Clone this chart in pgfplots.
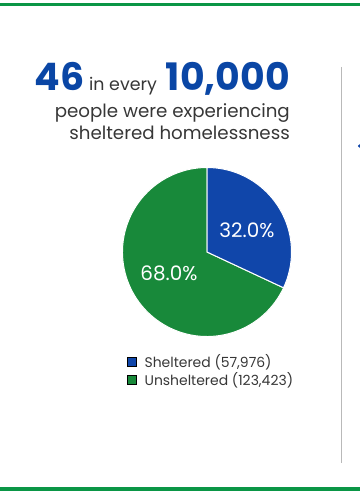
\documentclass[border=0pt]{standalone}
\usepackage{pgfplots}
\pgfplotsset{compat=1.18}
\usepackage{pgfplotstable}
\usepackage{fontspec}
\setmainfont{Poppins}
\definecolor{pieblue}{RGB}{16,70,170}
\definecolor{piegreen}{RGB}{24,137,58}
\definecolor{linegreen}{RGB}{10,150,70}
\definecolor{titleblue}{RGB}{10,70,165}
\definecolor{textgrey}{RGB}{55,55,55}
\definecolor{rulegrey}{RGB}{185,185,185}

\pgfplotstableread{
name value
Sheltered 57976
Unsheltered 123423
}\piedata
\pgfplotstablegetelem{0}{value}\of\piedata \let\vA\pgfplotsretval
\pgfplotstablegetelem{1}{value}\of\piedata \let\vB\pgfplotsretval
\edef\angA{\fpeval{round(\vA/(\vA+\vB)*360,3)}}
\edef\endA{\fpeval{90-\angA}}

\begin{document}
\begin{tikzpicture}
\path[use as bounding box] (0,0) rectangle (360bp,500bp);
\begin{axis}[
  hide axis, scale only axis,
  x=1bp, y=1bp,
  xmin=0, xmax=360, ymin=0, ymax=500,
  clip=false,
  legend style={at={(axis cs:127,147)}, anchor=north west, draw=none, fill=none,
    font=\fontsize{14}{16}\selectfont\color{textgrey}, row sep=0.5bp, inner sep=0pt,
    nodes={inner sep=1.5bp}},
  legend cell align=left,
  legend image code/.code={\fill[#1] (0bp,-4.5bp) rectangle (9bp,4.5bp); \path (15.5bp,0bp);},
]
\addlegendimage{fill=pieblue}
\addlegendentry{Sheltered (57,976)}
\addlegendimage{fill=piegreen}
\addlegendentry{Unsheltered (123,423)}

% frame lines
\addplot[forget plot, linegreen, line width=3bp] coordinates {(0,495.5) (360,495.5)};
\addplot[forget plot, linegreen, line width=3bp] coordinates {(0,11) (360,11)};
\addplot[forget plot, rulegrey, line width=1.5bp] coordinates {(341.5,433) (341.5,37)};
\addplot[forget plot, only marks, mark=*, mark size=1.3bp, color=pieblue] coordinates {(359.5,354)};

% pie slices from the data table
\fill[piegreen, draw=white, line width=1bp] (axis cs:207,248) -- ++(\endA:84.5bp) arc[start angle=\endA, end angle=-270, radius=84.5bp] -- cycle;
\fill[pieblue, draw=white, line width=1bp] (axis cs:207,248) -- ++(90:84.5bp) arc[start angle=90, end angle=\endA, radius=84.5bp] -- cycle;

\node[text=white, font=\fontsize{20}{20}\selectfont] at (axis cs:247,270) {32.0\%};
\node[text=white, font=\fontsize{20}{20}\selectfont] at (axis cs:169,227) {68.0\%};

% title
\node[anchor=base east, inner sep=0pt] at (axis cs:290,409)
  {\color{titleblue}\fontsize{38}{38}\selectfont\bfseries 46\kern5bp{\color{textgrey}\mdseries\fontsize{17.5}{17.5}\selectfont in every}\kern9bp 10,000};
\node[anchor=base east, inner sep=0pt, text=textgrey, font=\fontsize{18.3}{18.3}\selectfont] at (axis cs:290,383) {people were experiencing};
\node[anchor=base east, inner sep=0pt, text=textgrey, font=\fontsize{18.3}{18.3}\selectfont] at (axis cs:290,361) {sheltered homelessness};
\end{axis}
\end{tikzpicture}
\end{document}
